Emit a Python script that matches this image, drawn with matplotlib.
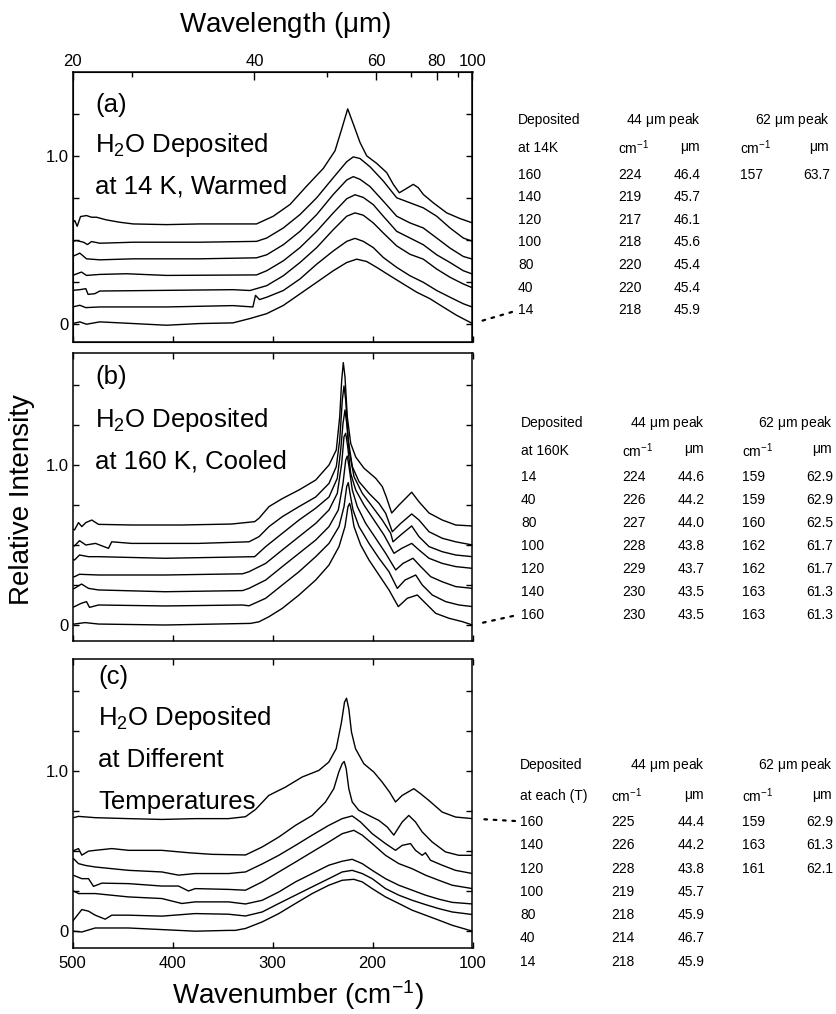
"""
Far-IR spectra of H2O ice: three stacked panels with peak tables on the right.
"""

import numpy as np
import matplotlib
matplotlib.use("Agg")
import matplotlib.pyplot as plt

plt.rcParams["font.family"] = ["Liberation Sans", "DejaVu Sans"]
plt.rcParams["mathtext.fontset"] = "custom"
plt.rcParams["mathtext.rm"] = "Liberation Sans"
plt.rcParams["mathtext.it"] = "Liberation Sans:italic"
plt.rcParams["mathtext.default"] = "regular"

# ─────────────────────────────────────────────────────────────────────────────
#  Spectra  (wavenumber cm-1, relative intensity) — top trace first
# ─────────────────────────────────────────────────────────────────────────────

# (a) deposited at 14 K, warmed
A160 = [(500, 0.60), (497.7, 0.614), (495.3, 0.58), (492, 0.638), (486, 0.644), (481, 0.634),
        (476, 0.634), (466, 0.618), (452.7, 0.604), (439.4, 0.594), (406, 0.59), (373, 0.594),
        (339.6, 0.594), (316, 0.594), (299.2, 0.64), (282.5, 0.71), (265.8, 0.82), (249.2, 0.925),
        (237.5, 1.03), (230.8, 1.16), (224.8, 1.28), (219.2, 1.19), (212.5, 1.08), (205.8, 1.00),
        (195.8, 0.955), (185.8, 0.90), (179.2, 0.83), (173.2, 0.78), (167.5, 0.80), (159.2, 0.83),
        (154.2, 0.81), (149.2, 0.77), (139.2, 0.72), (125.8, 0.66), (112.5, 0.626), (100, 0.60)]
A140 = [(500, 0.49), (496, 0.495), (489, 0.485), (485, 0.471), (481, 0.489), (472.7, 0.479),
        (439, 0.485), (373, 0.485), (316, 0.49), (305.8, 0.51), (289.2, 0.57), (272.5, 0.65),
        (255.8, 0.75), (239.2, 0.87), (225.8, 0.965), (219.2, 0.994), (212.5, 0.984), (202.5, 0.935),
        (189.2, 0.85), (175.8, 0.75), (162.5, 0.72), (149.2, 0.69), (135.8, 0.64), (122.5, 0.57),
        (109.2, 0.51), (100, 0.49)]
A120 = [(500, 0.40), (497.7, 0.406), (492.7, 0.42), (486, 0.386), (472.7, 0.38), (439, 0.386),
        (373, 0.386), (316, 0.392), (305.8, 0.41), (289.2, 0.47), (272.5, 0.55), (255.8, 0.65),
        (239.2, 0.77), (225.8, 0.856), (219.2, 0.876), (212.5, 0.86), (202.5, 0.817), (189.2, 0.73),
        (175.8, 0.64), (162.5, 0.60), (149.2, 0.57), (135.8, 0.51), (122.5, 0.45), (109.2, 0.40),
        (100, 0.384)]
A100 = [(500, 0.287), (491, 0.307), (486, 0.287), (472.7, 0.293), (446, 0.297), (406, 0.287),
        (316, 0.29), (305.8, 0.315), (289.2, 0.374), (272.5, 0.453), (255.8, 0.55), (239.2, 0.66),
        (225.8, 0.744), (217.5, 0.768), (209.2, 0.752), (199.2, 0.709), (189.2, 0.64), (175.8, 0.55),
        (162.5, 0.51), (149.2, 0.47), (135.8, 0.41), (122.5, 0.364), (109.2, 0.315), (100, 0.295)]
A80 = [(500, 0.198), (492.7, 0.202), (486.7, 0.208), (484.4, 0.174), (477.7, 0.178), (472.7, 0.194),
       (406, 0.198), (339.6, 0.202), (322.5, 0.197), (305.8, 0.226), (289.2, 0.285), (272.5, 0.364),
       (255.8, 0.453), (239.2, 0.56), (225.8, 0.64), (217.5, 0.66), (209.2, 0.646), (199.2, 0.60),
       (189.2, 0.54), (175.8, 0.463), (162.5, 0.413), (149.2, 0.384), (135.8, 0.325), (122.5, 0.276),
       (109.2, 0.236), (100, 0.213)]
A40 = [(500, 0.099), (492.7, 0.109), (486.7, 0.095), (472.7, 0.099), (406, 0.099), (339.6, 0.107),
       (319.6, 0.099), (317, 0.168), (313, 0.143), (305.8, 0.157), (289.2, 0.197), (272.5, 0.266),
       (255.8, 0.354), (239.2, 0.433), (225.8, 0.49), (217.5, 0.508), (209.2, 0.49), (199.2, 0.453),
       (189.2, 0.394), (175.8, 0.335), (162.5, 0.285), (149.2, 0.246), (135.8, 0.197), (122.5, 0.157),
       (109.2, 0.118), (100, 0.098)]
A14 = [(500, 0.0), (492.7, 0.01), (486, -0.004), (472.7, 0.01), (439, 0.0), (406, -0.01), (373, 0.0),
       (339.6, 0.004), (322.5, 0.03), (305.8, 0.059), (289.2, 0.108), (272.5, 0.177), (255.8, 0.246),
       (239.2, 0.315), (225.8, 0.364), (215.8, 0.384), (205.8, 0.37), (195.8, 0.335), (182.5, 0.285),
       (169.2, 0.236), (155.8, 0.187), (142.5, 0.148), (129.2, 0.098), (115.8, 0.049), (100, 0.0)]

# (b) deposited at 160 K, cooled
B14 = [(500, 0.60), (498, 0.594), (494, 0.64), (490.7, 0.615), (486.7, 0.64), (480.7, 0.656),
       (474, 0.629), (440.8, 0.625), (391, 0.625), (341, 0.631), (317.8, 0.646), (313.5, 0.667),
       (303.5, 0.74), (290.2, 0.79), (273.5, 0.844), (256.8, 0.906), (243.5, 1.0), (236.2, 1.094),
       (232.8, 1.30), (230.8, 1.53), (229.2, 1.64), (227.5, 1.55), (225.2, 1.30), (221.8, 1.135),
       (216.8, 1.05), (208.5, 0.98), (196.8, 0.917), (190.2, 0.865), (186.2, 0.80), (180.8, 0.70),
       (173.5, 0.75), (160.8, 0.83), (153.5, 0.77), (143.5, 0.70), (130.2, 0.656), (116.8, 0.625),
       (100, 0.619)]
B40 = [(500, 0.50), (498, 0.494), (493, 0.527), (486.7, 0.50), (477, 0.51), (464, 0.479),
       (460.8, 0.52), (440.8, 0.51), (374.3, 0.51), (323.5, 0.52), (313.5, 0.552), (303.5, 0.615),
       (290.2, 0.677), (273.5, 0.74), (256.8, 0.80), (243.5, 0.885), (236.2, 0.99), (232.8, 1.156),
       (230.2, 1.406), (228.5, 1.494), (226.8, 1.406), (224.2, 1.156), (220.2, 0.99), (213.5, 0.896),
       (203.5, 0.823), (193.5, 0.76), (186.8, 0.698), (180.2, 0.583), (171.8, 0.635), (160.8, 0.694),
       (153.5, 0.656), (143.5, 0.583), (130.2, 0.542), (116.8, 0.52), (100, 0.50)]
B80 = [(500, 0.41), (498, 0.406), (493, 0.4375), (484, 0.427), (474, 0.427), (407.6, 0.417),
       (317.8, 0.427), (306.8, 0.49), (290.2, 0.573), (273.5, 0.656), (256.8, 0.73), (243.5, 0.80),
       (235.2, 0.917), (231.8, 1.094), (229.5, 1.26), (227.5, 1.344), (225.8, 1.26), (223.5, 1.094),
       (218.5, 0.927), (210.2, 0.823), (200.2, 0.74), (190.2, 0.656), (181.8, 0.573), (179.5, 0.52),
       (171.8, 0.5625), (160.8, 0.619), (153.5, 0.552), (143.5, 0.49), (130.2, 0.458), (116.8, 0.4375),
       (100, 0.427)]
B100 = [(500, 0.30), (498, 0.302), (493, 0.317), (474, 0.3125), (407.6, 0.3125), (330, 0.32),
        (323.5, 0.333), (306.8, 0.385), (290.2, 0.469), (273.5, 0.552), (256.8, 0.635), (243.5, 0.719),
        (235.2, 0.823), (230.8, 1.01), (228.5, 1.177), (226.8, 1.198), (224.8, 1.115), (221.8, 0.948),
        (216.8, 0.844), (208.5, 0.75), (198.5, 0.656), (188.5, 0.5625), (178.5, 0.448), (170.8, 0.479),
        (160.8, 0.51), (153.5, 0.469), (143.5, 0.417), (130.2, 0.385), (116.8, 0.365), (100, 0.354)]
B120 = [(500, 0.225), (498, 0.229), (491, 0.256), (484, 0.229), (474, 0.219), (407.6, 0.208),
        (330, 0.215), (323.5, 0.229), (306.8, 0.281), (290.2, 0.365), (273.5, 0.448), (256.8, 0.531),
        (243.5, 0.615), (234.2, 0.719), (229.5, 0.885), (226.8, 1.03), (225.2, 1.056), (223.5, 0.99),
        (220.2, 0.844), (215.2, 0.74), (206.8, 0.635), (196.8, 0.542), (186.8, 0.448), (176.8, 0.344),
        (169.5, 0.385), (159.5, 0.417), (151.8, 0.365), (141.8, 0.302), (130.2, 0.27), (116.8, 0.24),
        (100, 0.229)]
B140 = [(500, 0.11), (498, 0.115), (491.5, 0.135), (486, 0.146), (483, 0.11), (474, 0.125),
        (407.6, 0.119), (330, 0.125), (323.5, 0.12), (306.8, 0.167), (290.2, 0.25), (273.5, 0.333),
        (256.8, 0.427), (243.5, 0.51), (233.5, 0.615), (228.5, 0.74), (225.8, 0.865), (224.2, 0.89),
        (222.5, 0.823), (219.5, 0.719), (213.5, 0.615), (203.5, 0.51), (193.5, 0.417), (183.5, 0.333),
        (175.2, 0.229), (167.5, 0.281), (156.8, 0.3125), (150.2, 0.25), (140.2, 0.1875), (126.8, 0.146),
        (113.5, 0.125), (100, 0.115)]
B160 = [(500, 0.005), (498, 0.006), (487.5, 0.015), (474, 0.006), (407.6, 0.0), (322, 0.01),
        (313.5, 0.02), (303.5, 0.052), (290.2, 0.104), (273.5, 0.1875), (256.8, 0.281), (243.5, 0.375),
        (233.5, 0.49), (227.5, 0.615), (224.5, 0.74), (222.8, 0.76), (221.2, 0.719), (218.5, 0.615),
        (211.8, 0.5), (203.5, 0.406), (193.5, 0.3125), (183.5, 0.219), (174.2, 0.115), (165.2, 0.167),
        (155.2, 0.1875), (146.8, 0.135), (136.8, 0.073), (123.5, 0.042), (110.2, 0.021), (100, 0.0)]

# (c) deposited at each temperature
C160 = [(500, 0.71), (499, 0.709), (494, 0.717), (477.3, 0.709), (444, 0.703), (410.7, 0.698),
        (377.3, 0.703), (344, 0.703), (327, 0.715), (317, 0.76), (303.7, 0.848), (287, 0.90),
        (270.3, 0.963), (253.7, 1.004), (243.7, 1.056), (236.3, 1.14), (231, 1.306), (228, 1.43),
        (226, 1.455), (223.7, 1.389), (221, 1.243), (217, 1.14), (208.7, 1.046), (198.7, 0.994),
        (190.3, 0.931), (183, 0.869), (177, 0.807), (170.3, 0.848), (158.7, 0.89), (152, 0.859),
        (143.7, 0.817), (130.3, 0.744), (117, 0.713), (100, 0.703)]
C140 = [(500, 0.50), (494, 0.516), (490.7, 0.475), (484, 0.50), (477.3, 0.505), (460.7, 0.516),
        (444, 0.505), (410.7, 0.505), (384, 0.49), (360.7, 0.48), (327, 0.476), (310.3, 0.526),
        (293.7, 0.588), (277, 0.661), (260.3, 0.723), (247, 0.807), (238.7, 0.89), (233.7, 0.994),
        (230.3, 1.046), (228.3, 1.06), (226.3, 1.015), (223.7, 0.89), (220.3, 0.807), (213.7, 0.755),
        (203.7, 0.723), (193.7, 0.692), (185.3, 0.651), (178.7, 0.60), (170.3, 0.682), (163.7, 0.723),
        (157, 0.682), (150.3, 0.62), (140.3, 0.557), (127, 0.495), (113.7, 0.474), (100, 0.474)]
C120 = [(500, 0.45), (499, 0.453), (494, 0.422), (487.3, 0.411), (477.3, 0.401), (444, 0.38),
        (410.7, 0.37), (394, 0.35), (377.3, 0.36), (344, 0.36), (327, 0.37), (310.3, 0.42),
        (293.7, 0.474), (277, 0.536), (260.3, 0.60), (243.7, 0.661), (230.3, 0.703), (220.3, 0.72),
        (212, 0.682), (200.3, 0.609), (187, 0.547), (177, 0.505), (170.3, 0.536), (162, 0.547),
        (157, 0.505), (150.3, 0.474), (147, 0.49), (142, 0.443), (130.3, 0.412), (117, 0.38),
        (100, 0.36)]
C100 = [(500, 0.35), (499, 0.349), (490.7, 0.328), (484, 0.328), (479, 0.28), (470.7, 0.30),
        (444, 0.297), (410.7, 0.282), (394, 0.282), (384, 0.251), (377.3, 0.266), (344, 0.261),
        (327, 0.256), (310.3, 0.308), (293.7, 0.37), (277, 0.432), (260.3, 0.495), (243.7, 0.557),
        (230.3, 0.609), (218.7, 0.63), (210.3, 0.60), (200.3, 0.547), (187, 0.474), (173.7, 0.422),
        (160.3, 0.39), (147, 0.35), (133.7, 0.318), (120.3, 0.287), (100, 0.266)]
C80 = [(500, 0.25), (499, 0.251), (494, 0.235), (477.3, 0.235), (444, 0.214), (410.7, 0.204),
       (390.7, 0.173), (377.3, 0.183), (344, 0.183), (327, 0.17), (310.3, 0.193), (293.7, 0.245),
       (277, 0.308), (260.3, 0.36), (243.7, 0.412), (230.3, 0.437), (220.3, 0.449), (210.3, 0.422),
       (200.3, 0.38), (187, 0.328), (173.7, 0.287), (160.3, 0.256), (147, 0.225), (133.7, 0.20),
       (120.3, 0.18), (100, 0.17)]
C40 = [(500, 0.06), (499, 0.069), (490.7, 0.135), (484, 0.125), (477.3, 0.10), (467.3, 0.075),
       (460.7, 0.10), (444, 0.10), (410.7, 0.094), (377.3, 0.11), (344, 0.106), (327, 0.095),
       (310.3, 0.12), (293.7, 0.173), (277, 0.225), (260.3, 0.277), (243.7, 0.328), (230.3, 0.37),
       (220.3, 0.38), (210.3, 0.36), (200.3, 0.328), (187, 0.266), (173.7, 0.225), (160.3, 0.193),
       (147, 0.166), (133.7, 0.141), (120.3, 0.12), (100, 0.104)]
C14 = [(500, 0.0), (499, 0.0), (490.7, -0.005), (477.3, 0.02), (444, 0.02), (410.7, 0.01),
       (377.3, 0.0), (344, 0.005), (337.3, 0.005), (327, 0.017), (310.3, 0.058), (293.7, 0.11),
       (277, 0.173), (260.3, 0.235), (243.7, 0.287), (230.3, 0.318), (218.7, 0.324), (210.3, 0.308),
       (200.3, 0.266), (187, 0.214), (173.7, 0.173), (160.3, 0.131), (147, 0.10), (133.7, 0.069),
       (120.3, 0.037), (100, 0.0)]

# ─────────────────────────────────────────────────────────────────────────────
#  Axes ticks and peak tables
# ─────────────────────────────────────────────────────────────────────────────

wn_ticks = [500, 400, 300, 200, 100]
# top wavelength scale as drawn in the original (positions in cm-1)
um_labels = ["20", "40", "60", "80", "100"]
um_major_pos = [500, 318, 196.4, 135.6, 100]
um_minor_pos = [441, 245, 161.6, 114.8]

tab_a_T = [160, 140, 120, 100, 80, 40, 14]
tab_a_44cm = [224, 219, 217, 218, 220, 220, 218]
tab_a_44um = [46.4, 45.7, 46.1, 45.6, 45.4, 45.4, 45.9]
tab_a_62cm = [157]
tab_a_62um = [63.7]

tab_b_T = [14, 40, 80, 100, 120, 140, 160]
tab_b_44cm = [224, 226, 227, 228, 229, 230, 230]
tab_b_44um = [44.6, 44.2, 44.0, 43.8, 43.7, 43.5, 43.5]
tab_b_62cm = [159, 159, 160, 162, 162, 163, 163]
tab_b_62um = [62.9, 62.9, 62.5, 61.7, 61.7, 61.3, 61.3]

tab_c_T = [160, 140, 120, 100, 80, 40, 14]
tab_c_44cm = [225, 226, 228, 219, 218, 214, 218]
tab_c_44um = [44.4, 44.2, 43.8, 45.7, 45.9, 46.7, 45.9]
tab_c_62cm = [159, 163, 161]
tab_c_62um = [62.9, 61.3, 62.1]

# ─────────────────────────────────────────────────────────────────────────────
#  Figure
# ─────────────────────────────────────────────────────────────────────────────

W_PX, H_PX = 836, 1014


def fx(x):
    return x / W_PX


def fy(y):
    return 1 - y / H_PX


fig = plt.figure(figsize=(W_PX / 100, H_PX / 100), dpi=100)


def make_panel(top_px, bot_px, ymin, ymax, traces):
    ax = fig.add_axes([fx(72.5), fy(bot_px), 400 / W_PX, (bot_px - top_px) / H_PX])
    for tr in traces:
        wn, inten = np.array(tr).T
        ax.plot(wn, inten, color="black", lw=1.0)
    ax.set_xlim(500, 100)
    ax.set_ylim(ymin, ymax)
    ax.set_xticks(wn_ticks)
    ax.set_xticklabels([])
    yt = np.arange(0, ymax, 0.25)
    ax.set_yticks(yt)
    ax.set_yticklabels(["0" if v == 0 else ("1.0" if v == 1 else "") for v in yt])
    ax.tick_params(direction="in", top=True, right=True, length=4, width=1,
                   labelsize=12, pad=3)
    for s in ax.spines.values():
        s.set_linewidth(1.1)
    return ax


ax_a = make_panel(72, 342, -0.11, 1.5, [A160, A140, A120, A100, A80, A40, A14])
ax_b = make_panel(353, 641, -0.10, 1.7, [B14, B40, B80, B100, B120, B140, B160])
ax_c = make_panel(659, 948, -0.105, 1.7, [C160, C140, C120, C100, C80, C40, C14])

ax_a.tick_params(top=False)
ax_c.set_xticklabels([str(t) for t in wn_ticks])
ax_c.tick_params(axis="x", pad=6)

# wavelength scale on top of panel (a)
ax_top = ax_a.twiny()
ax_top.set_xlim(500, 100)
ax_top.set_xticks(um_major_pos)
ax_top.set_xticklabels(um_labels)
ax_top.set_xticks(um_minor_pos, minor=True)
ax_top.tick_params(which="major", direction="in", length=6, width=1, labelsize=12, pad=2)
ax_top.tick_params(which="minor", direction="in", length=3.5, width=1)

# axis titles
fig.text(fx(285), fy(25), r"Wavelength ($\mu$m)", fontsize=20, ha="center", va="center")
fig.text(fx(298), fy(995), r"Wavenumber (cm$^{-1}$)", fontsize=20, ha="center", va="center")
fig.text(fx(22), fy(500), "Relative Intensity", fontsize=20, rotation=90,
         ha="center", va="center")

# panel captions
captions = [
    (95, [105, 145, 187], ["(a)", r"H$_2$O Deposited", "at 14 K, Warmed"]),
    (95, [377, 420, 462], ["(b)", r"H$_2$O Deposited", "at 160 K, Cooled"]),
    (98, [677, 718, 760, 802], ["(c)", r"H$_2$O Deposited", "at Different", "Temperatures"]),
]
for x0, ys, lines in captions:
    for y, s in zip(ys, lines):
        fig.text(fx(x0), fy(y), s, fontsize=18.5, ha="left", va="center")


# ─────────────────────────────────────────────────────────────────────────────
#  Peak tables
# ─────────────────────────────────────────────────────────────────────────────

def draw_table(head_y, sub_y, row0_y, step, cols, sub_label, T, c44, u44, c62, u62):
    c1, c2, c3r, c4, c5r = cols
    kw = dict(fontsize=10, va="center")
    fig.text(fx(c1), fy(head_y), "Deposited", ha="left", **kw)
    fig.text(fx(c3r), fy(head_y), r"44 $\mu$m peak", ha="right", **kw)
    fig.text(fx(c5r), fy(head_y), r"62 $\mu$m peak", ha="right", **kw)
    fig.text(fx(c1), fy(sub_y), sub_label, ha="left", **kw)
    fig.text(fx(c2), fy(sub_y), r"cm$^{-1}$", ha="left", **kw)
    fig.text(fx(c3r), fy(sub_y), r"$\mu$m", ha="right", **kw)
    fig.text(fx(c4), fy(sub_y), r"cm$^{-1}$", ha="left", **kw)
    fig.text(fx(c5r), fy(sub_y), r"$\mu$m", ha="right", **kw)
    for i, t in enumerate(T):
        y = fy(row0_y + i * step)
        fig.text(fx(c1), y, str(t), ha="left", **kw)
        fig.text(fx(c2), y, str(c44[i]), ha="left", **kw)
        fig.text(fx(c3r), y, f"{u44[i]:.1f}", ha="right", **kw)
        if i < len(c62):
            fig.text(fx(c4), y, str(c62[i]), ha="left", **kw)
            fig.text(fx(c5r), y, f"{u62[i]:.1f}", ha="right", **kw)


draw_table(120, 148, 175, 22.5, (518, 618, 701, 740, 830), "at 14K",
           tab_a_T, tab_a_44cm, tab_a_44um, tab_a_62cm, tab_a_62um)
draw_table(423, 451, 477, 23.0, (521, 622, 705, 742, 833), "at 160K",
           tab_b_T, tab_b_44cm, tab_b_44um, tab_b_62cm, tab_b_62um)
draw_table(765, 796, 822, 23.3, (520, 611, 705, 742, 833), "at each (T)",
           tab_c_T, tab_c_44cm, tab_c_44um, tab_c_62cm, tab_c_62um)

# dotted leaders from the marked trace to its table row
leaders = [(ax_a, A14, 512, 312), (ax_b, B160, 513, 616), (ax_c, C160, 515, 821)]
for ax, tr, tx, ty in leaders:
    ax.annotate("", xy=tr[-1], xycoords="data",
                xytext=(fx(tx), fy(ty)), textcoords="figure fraction",
                arrowprops=dict(arrowstyle="-", linestyle=(0, (1.2, 3.0)), lw=1.6,
                                color="black", shrinkA=0, shrinkB=6),
                annotation_clip=False)

fig.savefig("out.png", dpi=100)
plt.close(fig)
